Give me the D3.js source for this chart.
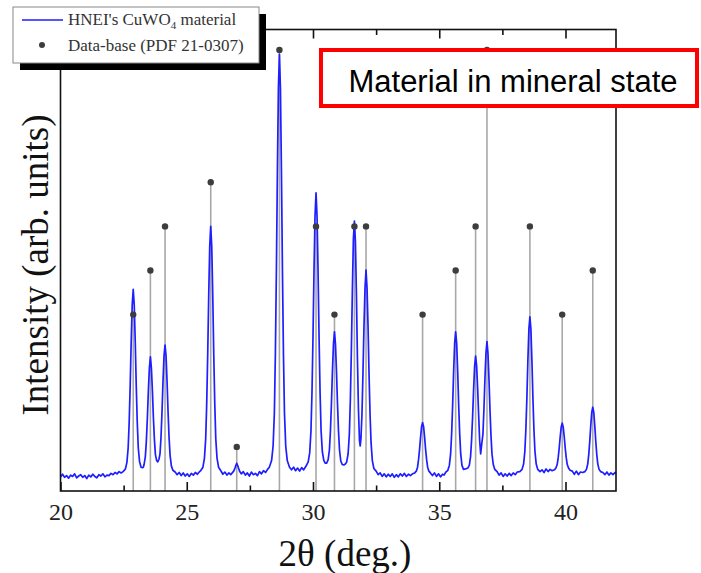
<!DOCTYPE html>
<html>
<head>
<meta charset="utf-8">
<script src="https://cdn.jsdelivr.net/npm/d3@7"></script>
<style>
  body { margin: 0; background: #fff; }
  svg { display: block; }
</style>
</head>
<body>
<div id="chart"></div>
<script>
// Reference pattern (PDF 21-0307): 2theta positions and relative intensities
var refPositions = [22.88, 23.56, 24.14, 25.95, 26.98, 28.67, 30.12, 30.85, 31.64, 32.10,
                    34.34, 35.65, 36.44, 36.89, 38.59, 39.87, 41.08];
var refIntensities = [40, 50, 60, 70, 10, 100, 60, 40, 60, 60,
                      40, 50, 60, 100, 60, 40, 50];

var scan = [
  // 20 - 22.4 background
  [20.00,3.2],[20.08,3.8],[20.16,3.1],[20.24,3.5],[20.32,2.9],[20.40,3.6],[20.48,3.3],[20.56,3.9],
  [20.64,3.0],[20.72,3.4],[20.80,3.7],[20.88,3.1],[20.96,3.5],[21.04,2.8],[21.12,3.6],[21.20,3.2],
  [21.28,3.8],[21.36,3.3],[21.44,3.0],[21.52,3.7],[21.60,3.4],[21.68,3.9],[21.76,3.2],[21.84,3.6],
  [21.92,3.5],[22.00,4.0],[22.08,3.7],[22.16,4.2],[22.24,3.9],[22.32,4.4],[22.40,4.1],
  // 22.88 / 23.56 / 24.14
  [22.48,4.4],[22.57,5.0],[22.63,6.5],[22.68,9.8],[22.72,15.6],[22.76,23.9],[22.80,33.9],[22.84,42.2],
  [22.88,45.7],[22.92,42.2],[22.96,33.9],[23.00,23.9],[23.04,15.6],[23.08,9.8],[23.13,6.7],[23.19,5.4],
  [23.24,5.3],[23.28,5.4],[23.31,6.0],[23.36,7.8],[23.40,11.3],[23.44,16.5],[23.48,22.7],[23.52,27.9],
  [23.56,30.4],[23.60,27.9],[23.64,22.7],[23.68,16.5],[23.72,11.6],[23.76,8.2],[23.81,6.9],[23.85,6.6],
  [23.90,7.2],[23.94,8.4],[23.98,12.1],[24.02,17.9],[24.06,24.9],[24.10,30.7],[24.14,33.1],[24.18,30.7],
  [24.22,24.9],[24.26,17.9],[24.30,12.1],[24.34,8.1],[24.39,5.7],[24.45,4.7],[24.54,4.3],
  [24.62,3.7],[24.70,4.2],[24.78,3.5],[24.86,4.1],[24.94,3.4],[25.02,3.9],[25.10,3.3],[25.18,4.0],
  [25.26,3.6],[25.34,4.2],[25.42,3.8],[25.49,4.3],
  // 25.95
  [25.55,4.6],[25.64,5.4],[25.70,7.4],[25.75,11.8],[25.79,19.7],[25.83,30.9],[25.87,44.3],[25.91,55.5],
  [25.95,60],[25.99,55.5],[26.03,44.3],[26.07,30.9],[26.11,19.7],[26.15,11.8],[26.20,7.4],[26.26,5.4],
  [26.35,4.6],[26.43,3.8],[26.51,4.3],[26.59,3.6],[26.67,4.1],[26.74,3.7],
  // 26.98
  [26.80,4.1],[26.86,4.5],[26.91,5.2],[26.95,5.9],[26.98,6.3],[27.01,5.9],[27.05,5.2],[27.10,4.4],
  [27.16,3.9],[27.24,4.4],[27.32,3.6],[27.40,4.1],[27.48,3.4],[27.56,4.3],[27.64,3.7],[27.72,4.0],
  [27.80,3.5],[27.88,4.4],[27.96,3.9],[28.04,4.6],[28.12,4.2],[28.20,4.9],
  // 28.67
  [28.27,5.4],[28.36,6.9],[28.42,10.2],[28.47,17.7],[28.51,31],[28.55,49.9],[28.59,72.5],[28.63,91.4],
  [28.67,99],[28.71,91.4],[28.75,72.5],[28.79,49.9],[28.83,31],[28.87,17.7],[28.92,10.2],[28.98,6.9],
  [29.07,5.4],[29.15,4.8],[29.23,5.4],[29.31,4.6],[29.39,5.2],[29.47,4.5],[29.55,5.3],[29.63,4.8],
  // 30.12 / 30.85 / 31.64 / 32.10
  [29.72,5.6],[29.81,6.6],[29.87,8.7],[29.92,13.7],[29.96,22.4],[30.00,34.9],[30.04,49.9],[30.08,62.3],
  [30.12,67.6],[30.16,62.3],[30.20,49.9],[30.24,34.9],[30.28,22.4],[30.32,13.7],[30.37,8.9],[30.43,6.9],
  [30.49,6.3],[30.54,6.3],[30.60,7.1],[30.65,9.3],[30.69,13.6],[30.73,19.8],[30.77,27.2],[30.81,33.3],
  [30.85,36.1],[30.89,33.3],[30.93,27.2],[30.97,19.8],[31.01,13.6],[31.05,9.3],[31.10,6.8],[31.16,6.0],
  [31.22,5.9],[31.28,6.1],[31.33,6.5],[31.39,8.4],[31.44,12.9],[31.48,20.8],[31.52,32.1],[31.56,45.7],
  [31.60,57.2],[31.64,61.2],[31.68,56.5],[31.72,44.5],[31.76,30],[31.80,18.5],[31.84,11.5],[31.87,10.2],
  [31.90,12],[31.94,17.5],[31.98,27],[32.02,37.5],[32.06,46],[32.10,50.1],[32.14,46],[32.18,37.3],
  [32.22,26.4],[32.26,17.3],[32.30,10.9],[32.35,6.9],[32.41,5.1],[32.50,4.5],
  [32.58,3.7],[32.66,4.1],[32.74,3.3],[32.82,3.9],[32.90,3.2],[32.98,3.8],[33.06,3.3],[33.14,3.9],
  [33.22,3.1],[33.30,3.7],[33.38,3.2],[33.46,3.9],[33.54,3.4],[33.62,4.0],[33.70,3.3],[33.78,3.8],
  [33.86,3.5],
  // 34.34
  [33.94,3.9],[34.03,4.1],[34.09,4.5],[34.14,5.4],[34.18,7.1],[34.22,9.4],[34.26,12.2],[34.30,14.6],
  [34.34,15.5],[34.38,14.6],[34.42,12.2],[34.46,9.4],[34.50,7.1],[34.54,5.4],[34.59,4.5],[34.65,4.1],
  [34.73,3.5],[34.81,4.1],[34.89,3.3],[34.97,3.9],[35.05,3.2],[35.13,3.8],[35.19,3.6],
  // 35.65 / 36.44 / 36.89
  [35.25,4.2],[35.34,4.7],[35.40,5.8],[35.45,8.4],[35.49,12.9],[35.53,19.4],[35.57,27.1],[35.61,33.5],
  [35.65,36.1],[35.69,33.5],[35.73,27.1],[35.77,19.4],[35.81,12.9],[35.85,8.4],[35.90,5.8],[35.96,4.9],
  [36.04,5.0],[36.13,5.2],[36.19,5.8],[36.24,7.8],[36.28,11.5],[36.32,16.7],[36.36,22.9],[36.40,28.2],
  [36.44,30.6],[36.48,28.4],[36.52,23.3],[36.56,17.3],[36.60,11.5],[36.64,8.4],[36.68,10.5],[36.73,12.9],
  [36.77,18.6],[36.81,25.5],[36.85,31.3],[36.89,33.9],[36.93,31.2],[36.97,25.3],[37.01,18.3],[37.05,12.4],
  [37.09,8.3],[37.14,6.0],[37.20,4.9],[37.29,4.4],
  [37.37,3.6],[37.45,4.1],[37.53,3.3],[37.61,3.9],[37.69,3.4],[37.77,4.0],[37.85,3.5],[37.93,4.1],
  [38.01,3.7],[38.09,4.3],
  // 38.59
  [38.19,4.4],[38.28,4.9],[38.34,6.1],[38.39,9.0],[38.43,13.9],[38.47,21],[38.51,29.6],[38.55,36.7],
  [38.59,39.5],[38.63,36.7],[38.67,29.6],[38.71,21],[38.75,13.9],[38.79,9.0],[38.84,6.1],[38.90,4.9],
  [38.99,4.4],[39.07,4.8],[39.15,4.2],[39.23,5.0],[39.31,4.4],[39.39,4.9],
  // 39.87
  [39.47,4.6],[39.56,4.8],[39.62,5.2],[39.67,6.0],[39.71,7.5],[39.75,9.7],[39.79,12.3],[39.83,14.5],
  [39.87,15.4],[39.91,14.5],[39.95,12.3],[39.99,9.7],[40.03,7.5],[40.07,6.0],[40.12,5.2],[40.18,4.7],
  [40.27,4.5],[40.35,3.8],[40.43,4.5],[40.51,3.7],[40.59,4.3],
  // 41.08
  [40.68,4.2],[40.77,4.4],[40.83,4.9],[40.88,6.1],[40.92,8.2],[40.96,11.2],[41.00,14.8],[41.04,17.8],
  [41.08,19],[41.12,17.8],[41.16,14.8],[41.20,11.2],[41.24,8.2],[41.28,6.1],[41.33,4.9],[41.39,4.4],
  [41.48,4.2],[41.56,3.7],[41.64,4.3],[41.72,3.6],[41.80,4.1],[41.88,3.7],[41.96,4.2],[42.00,3.9]
];

// Axis ticks
var majorTicks = [20, 25, 30, 35, 40];
var minorTicks = [22.5, 27.5, 32.5, 37.5];

// Texts
var xTitle = "2\u03b8 (deg.)";
var yTitle = "Intensity (arb. units)";
var legendScan = ["HNEI's CuWO", "4", " material"];
var legendRef = "Data-base (PDF 21-0307)";
var noteText = "Material in mineral state";

// SVG area
var svgWidth = 701;
var svgHeight = 573;

// Plot frame in pixels
var frame = { left: 60.5, right: 616, top: 29.5, bottom: 491 };

var svg = d3.select("#chart")
  .append("svg")
  .attr("width", svgWidth)
  .attr("height", svgHeight);

// Scales
var x = d3.scaleLinear()
  .domain([20, 42])
  .range([frame.left, frame.right]);

var y = d3.scaleLinear()
  .domain([0, 104.65])
  .range([frame.bottom, frame.top]);

var serif = "'Liberation Serif', 'Times New Roman', serif";

// Database sticks
svg.append("g")
  .selectAll("line")
  .data(refPositions)
  .enter()
  .append("line")
  .attr("x1", d => x(d))
  .attr("x2", d => x(d))
  .attr("y1", y(0))
  .attr("y2", (d, i) => y(refIntensities[i]))
  .attr("stroke", "#a8a8a8")
  .attr("stroke-width", 1.6);

// Measured curve
var line = d3.line()
  .x(d => x(d[0]))
  .y(d => y(d[1]));

svg.append("path")
  .datum(scan)
  .attr("d", line)
  .attr("fill", "none")
  .attr("stroke", "#1e1eff")
  .attr("stroke-width", 1.7)
  .attr("stroke-linejoin", "round");

// Database dots
svg.append("g")
  .selectAll("circle")
  .data(refPositions)
  .enter()
  .append("circle")
  .attr("cx", d => x(d))
  .attr("cy", (d, i) => y(refIntensities[i]))
  .attr("r", 3.2)
  .attr("fill", "#3d3d3d");

// Frame
svg.append("rect")
  .attr("x", frame.left)
  .attr("y", frame.top)
  .attr("width", frame.right - frame.left)
  .attr("height", frame.bottom - frame.top)
  .attr("fill", "none")
  .attr("stroke", "#111")
  .attr("stroke-width", 1.6);

// Bottom axis, ticks pointing inward
var xAxis = svg.append("g")
  .attr("transform", `translate(0, ${frame.bottom})`)
  .call(d3.axisBottom(x).tickValues(majorTicks).tickSize(-9).tickPadding(12).tickFormat(d3.format("d")));

svg.append("g")
  .attr("transform", `translate(0, ${frame.bottom})`)
  .call(d3.axisBottom(x).tickValues(minorTicks).tickSize(-5.5).tickFormat(""));

// Top axis, ticks pointing inward
svg.append("g")
  .attr("transform", `translate(0, ${frame.top})`)
  .call(d3.axisTop(x).tickValues(majorTicks).tickSize(-9).tickFormat(""));

svg.append("g")
  .attr("transform", `translate(0, ${frame.top})`)
  .call(d3.axisTop(x).tickValues(minorTicks).tickSize(-5.5).tickFormat(""));

svg.selectAll(".domain").remove();
svg.selectAll(".tick line").attr("stroke", "#111").attr("stroke-width", 1.6);

xAxis.selectAll("text")
  .attr("font-family", serif)
  .attr("font-size", "24px")
  .attr("fill", "#222");

// Axis titles
svg.append("text")
  .attr("x", 345)
  .attr("y", 566)
  .attr("text-anchor", "middle")
  .attr("font-family", serif)
  .attr("font-size", "37px")
  .attr("fill", "#111")
  .text(xTitle);

svg.append("text")
  .attr("transform", "translate(48, 265) rotate(-90)")
  .attr("text-anchor", "middle")
  .attr("font-family", serif)
  .attr("font-size", "37px")
  .attr("fill", "#111")
  .text(yTitle);

// Legend with drop shadow
var legend = svg.append("g");

legend.append("rect")
  .attr("x", 20).attr("y", 14)
  .attr("width", 246).attr("height", 56)
  .attr("fill", "#000");

legend.append("rect")
  .attr("x", 13).attr("y", 7)
  .attr("width", 246).attr("height", 56)
  .attr("fill", "#fff")
  .attr("stroke", "#888")
  .attr("stroke-width", 1);

legend.append("line")
  .attr("x1", 22).attr("x2", 63)
  .attr("y1", 20).attr("y2", 20)
  .attr("stroke", "#1e1eff")
  .attr("stroke-width", 1.5);

var legText = legend.append("text")
  .attr("x", 68)
  .attr("y", 25)
  .attr("font-family", serif)
  .attr("font-size", "17px")
  .attr("fill", "#333");

legText.append("tspan").text(legendScan[0]);
legText.append("tspan").attr("dy", 4).attr("font-size", "11px").text(legendScan[1]);
legText.append("tspan").attr("dy", -4).text(legendScan[2]);

legend.append("circle")
  .attr("cx", 42).attr("cy", 45)
  .attr("r", 3)
  .attr("fill", "#3d3d3d");

legend.append("text")
  .attr("x", 68)
  .attr("y", 51)
  .attr("font-family", serif)
  .attr("font-size", "17px")
  .attr("fill", "#333")
  .text(legendRef);

// Red note box
svg.append("rect")
  .attr("x", 321).attr("y", 50)
  .attr("width", 376).attr("height", 56)
  .attr("fill", "#fff")
  .attr("stroke", "#ff0000")
  .attr("stroke-width", 4);

svg.append("text")
  .attr("x", 513)
  .attr("y", 92)
  .attr("text-anchor", "middle")
  .attr("font-family", "'Liberation Sans', Arial, sans-serif")
  .attr("font-size", "31px")
  .attr("fill", "#000")
  .text(noteText);
</script>
</body>
</html>
